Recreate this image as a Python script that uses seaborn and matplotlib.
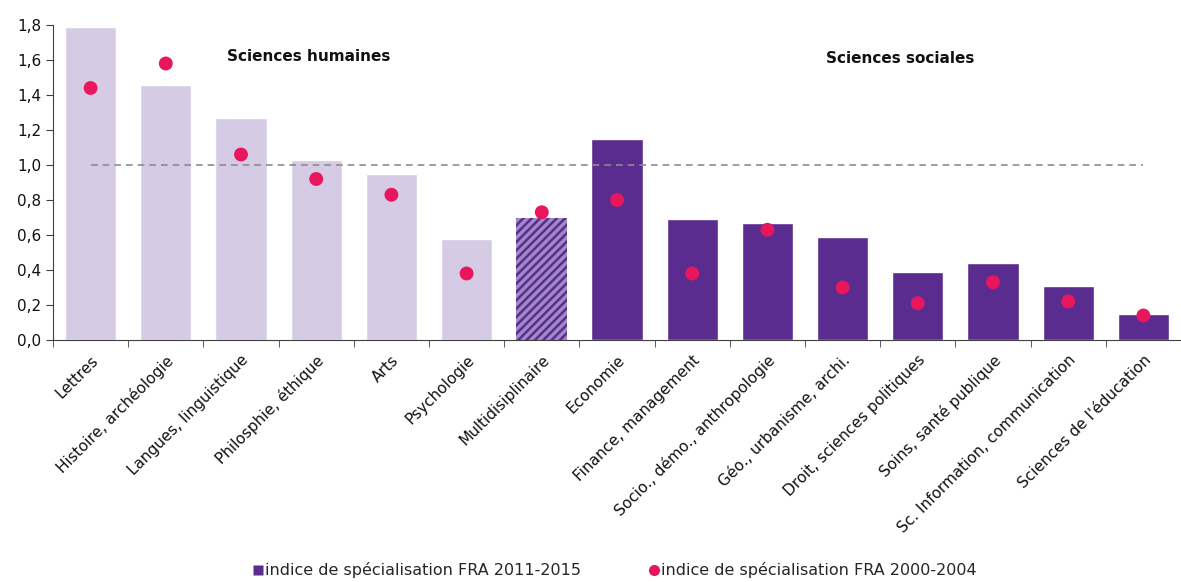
import pandas as pd
import matplotlib.pyplot as plt
from matplotlib.lines import Line2D
import seaborn as sns

# Data
disciplines = ['Lettres', 'Histoire, archéologie', 'Langues, linguistique', 'Philosphie, éthique',
               'Arts', 'Psychologie', 'Multidisiplinaire', 'Economie', 'Finance, management',
               'Socio., démo., anthropologie', 'Géo., urbanisme, archi.', 'Droit, sciences politiques',
               'Soins, santé publique', 'Sc. Information, communication', "Sciences de l'éducation"]
indice_2011_2015 = [1.79, 1.46, 1.27, 1.03, 0.95, 0.58, 0.70, 1.15, 0.69, 0.67, 0.59, 0.39, 0.44, 0.31, 0.15]
indice_2000_2004 = [1.44, 1.58, 1.06, 0.92, 0.83, 0.38, 0.73, 0.80, 0.38, 0.63, 0.30, 0.21, 0.33, 0.22, 0.14]
groupe = ['humaines'] * 6 + ['multi'] + ['sociales'] * 8

light = '#D5CBE4'
dark = '#5B2C8F'
pink = '#E8175D'

df = pd.DataFrame({'disc': disciplines, 'v15': indice_2011_2015,
                   'v04': indice_2000_2004, 'groupe': groupe})

sns.set_style('white')
plt.rcParams['font.family'] = ['DejaVu Sans']
plt.rcParams['hatch.linewidth'] = 1.8

fig = plt.figure(figsize=(11.81, 5.82), dpi=100)
ax = fig.add_axes([53 / 1181, 1 - 340 / 582, 1 - 53 / 1181, 315 / 582])

sns.barplot(data=df, x='disc', y='v15', hue='groupe',
            palette={'humaines': light, 'multi': '#A08AC6', 'sociales': dark},
            dodge=False, width=0.68, legend=False, ax=ax, saturation=1)

# hatched bar for the multidisciplinary field
for p, g in zip(ax.patches, groupe):
    if g == 'multi':
        p.set_hatch('////')
        p.set_edgecolor(dark)
        p.set_linewidth(0)

sns.scatterplot(data=df, x='disc', y='v04', color=pink, s=100,
                edgecolor='none', zorder=5, ax=ax)

ax.hlines(1.0, 0, len(disciplines) - 1, colors='#8C8C8C', linestyles=(0, (4, 3)), lw=1.2, zorder=1)

ax.set_xlim(-0.5, len(disciplines) - 0.5)
ax.set_ylim(0, 1.8)
ax.set_yticks([0, 0.2, 0.4, 0.6, 0.8, 1.0, 1.2, 1.4, 1.6, 1.8])
ax.set_yticklabels([f'{v:.1f}'.replace('.', ',') for v in ax.get_yticks()], fontsize=11, color='#111111')
ax.set_xticks(range(len(disciplines)))
ax.set_xticklabels(disciplines, rotation=45, ha='right', rotation_mode='anchor', fontsize=11, color='#111111')
ax.tick_params(axis='x', length=0, pad=9)
ax.set_xticks([i - 0.5 for i in range(len(disciplines) + 1)], minor=True)
ax.tick_params(axis='x', which='minor', length=5, direction='out', bottom=True, color='#404040')
ax.tick_params(axis='y', length=5, direction='out', left=True, color='#404040')
ax.set_xlabel('')
ax.set_ylabel('')

for s in ['top', 'right']:
    ax.spines[s].set_visible(False)
ax.spines['left'].set_color('#404040')
ax.spines['bottom'].set_color('#404040')

ax.text(2.9, 1.62, 'Sciences humaines', ha='center', va='center', fontsize=11, fontweight='bold', color='#111111')
ax.text(10.76, 1.61, 'Sciences sociales', ha='center', va='center', fontsize=11, fontweight='bold', color='#111111')

handles = [Line2D([], [], marker='s', color='none', markerfacecolor=dark, markeredgecolor='none',
                  markersize=7, label='indice de spécialisation FRA 2011-2015'),
           Line2D([], [], marker='o', color='none', markerfacecolor=pink, markeredgecolor='none',
                  markersize=8, label='indice de spécialisation FRA 2000-2004')]
fig.legend(handles=handles, loc='lower center', bbox_to_anchor=(0.52, -0.018), ncol=2, frameon=False,
           fontsize=11.5, handletextpad=0.05, columnspacing=4.2, handlelength=0.8)

fig.savefig('out.png', dpi=100)
